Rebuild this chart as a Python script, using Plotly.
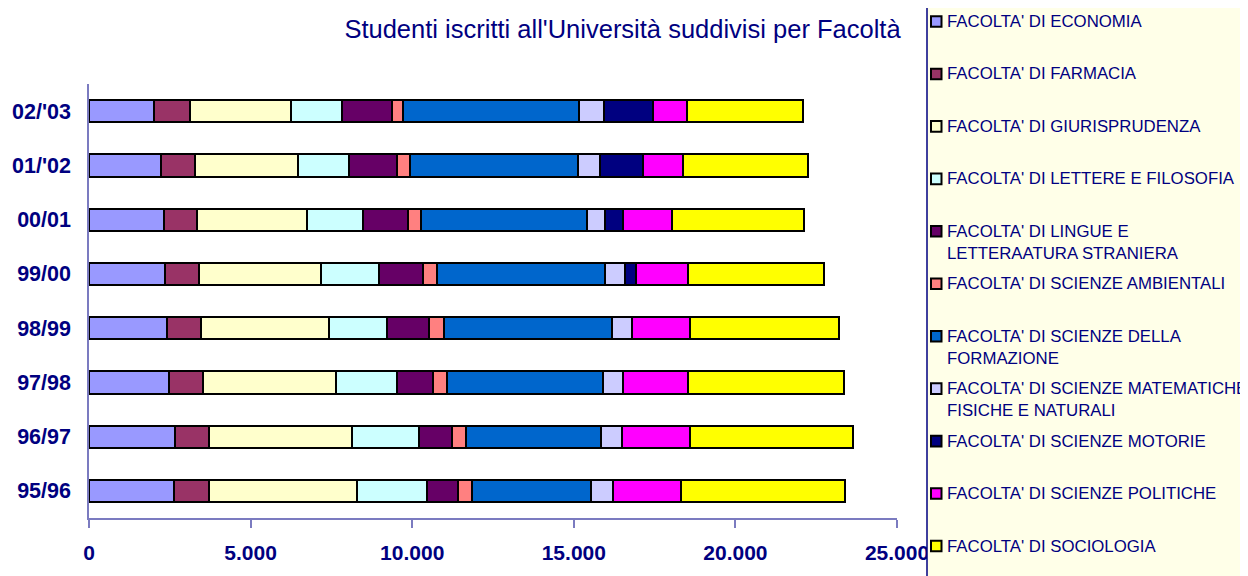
import plotly.graph_objects as go

years = ["95/96", "96/97", "97/98", "98/99", "99/00", "00/01", "01/'02", "02/'03"]

faculties = [
    "FACOLTA' DI ECONOMIA",
    "FACOLTA' DI FARMACIA",
    "FACOLTA' DI GIURISPRUDENZA",
    "FACOLTA' DI LETTERE E FILOSOFIA",
    "FACOLTA' DI LINGUE E LETTERAATURA STRANIERA",
    "FACOLTA' DI SCIENZE AMBIENTALI",
    "FACOLTA' DI SCIENZE DELLA FORMAZIONE",
    "FACOLTA' DI SCIENZE MATEMATICHE FISICHE E NATURALI",
    "FACOLTA' DI SCIENZE MOTORIE",
    "FACOLTA' DI SCIENZE POLITICHE",
    "FACOLTA' DI SOCIOLOGIA",
]
legend_labels = [
    "FACOLTA' DI ECONOMIA",
    "FACOLTA' DI FARMACIA",
    "FACOLTA' DI GIURISPRUDENZA",
    "FACOLTA' DI LETTERE E FILOSOFIA",
    "FACOLTA' DI LINGUE E<br>LETTERAATURA STRANIERA",
    "FACOLTA' DI SCIENZE AMBIENTALI",
    "FACOLTA' DI SCIENZE DELLA<br>FORMAZIONE",
    "FACOLTA' DI SCIENZE MATEMATICHE<br>FISICHE E NATURALI",
    "FACOLTA' DI SCIENZE MOTORIE",
    "FACOLTA' DI SCIENZE POLITICHE",
    "FACOLTA' DI SOCIOLOGIA",
]

economia       = [2617, 2648, 2483, 2412, 2360, 2307, 2227, 1998]
farmacia       = [1104, 1073, 1030, 1052, 1030, 1033, 1061, 1135]
giurisprudenza = [4568, 4413, 4126, 3947, 3785, 3402, 3176, 3124]
lettere        = [2165, 2091, 1887, 1824, 1794, 1732, 1565, 1577]
lingue         = [977, 1002, 1113, 1299, 1380, 1411, 1497, 1537]
ambientali     = [414, 442, 452, 455, 414, 383, 411, 359]
formazione     = [3690, 4176, 4825, 5186, 5205, 5134, 5205, 5443]
matematiche    = [690, 640, 618, 638, 619, 566, 672, 773]
motorie        = [0, 0, 0, 0, 331, 566, 1320, 1497]
politiche      = [2084, 2112, 2011, 1784, 1627, 1497, 1256, 1052]
sociologia     = [5082, 5051, 4815, 4618, 4206, 4092, 3866, 3587]

series = [economia, farmacia, giurisprudenza, lettere, lingue, ambientali,
          formazione, matematiche, motorie, politiche, sociologia]

colors = ["#9999FF", "#993366", "#FFFFCC", "#CCFFFF", "#660066", "#FF8080",
          "#0066CC", "#CCCCFF", "#000080", "#FF00FF", "#FFFF00"]

x_ticks = [0, 5000, 10000, 15000, 20000, 25000]

NAVY = "#000080"
AXIS = "#7B7BC0"
FONT = "Liberation Sans, Arial, sans-serif"

OFF = 8  # default page body margin
W, H = 1248 - OFF, 576 - OFF
# plot area in page pixels
L, R, T, B = 89, 897, 84, 518


def px_x(p):
    return (p - L) / (R - L)


def px_y(p):
    return (B - p) / (B - T)


fig = go.Figure()
for name, vals, col in zip(faculties, series, colors):
    fig.add_trace(go.Bar(
        y=years, x=vals, name=name, orientation="h",
        width=0.41,
        marker=dict(color=col, line=dict(color="#000000", width=2)),
        showlegend=False,
    ))

shapes = []
annotations = []
shapes.append(dict(type="rect", xref="paper", yref="paper",
                   x0=px_x(927), x1=px_x(1262), y0=px_y(600), y1=px_y(5.5),
                   fillcolor="#FFFFE8", line=dict(color=NAVY, width=1.5),
                   layer="above"))
item_y0 = 21.5
item_step = 52.45
for i, (lab, col) in enumerate(zip(legend_labels, colors)):
    cy = item_y0 + i * item_step
    shapes.append(dict(type="rect", xref="paper", yref="paper",
                       x0=px_x(931), x1=px_x(941.5), y0=px_y(cy + 5.3), y1=px_y(cy - 5.3),
                       fillcolor=col, line=dict(color="#000000", width=2),
                       layer="above"))
    annotations.append(dict(xref="paper", yref="paper", x=px_x(944.5), y=px_y(cy - 11.5),
                            xanchor="left", yanchor="top", align="left",
                            text=lab, showarrow=False,
                            font=dict(family=FONT, size=16.8, color=NAVY)))

fig.update_layout(
    width=W, height=H,
    margin=dict(l=L - OFF, r=1248 - R, t=T - OFF, b=576 - B),
    paper_bgcolor="white", plot_bgcolor="white",
    barmode="stack",
    separators=",.",
    title=dict(text="Studenti iscritti all'Università suddivisi per Facoltà",
               x=(622.5 - OFF) / W, xanchor="center", y=1 - (29 - OFF) / H, yanchor="middle",
               font=dict(family=FONT, size=25.5, color=NAVY)),
    xaxis=dict(range=[0, 25000], tickvals=x_ticks, tickformat=",d",
               showgrid=False, zeroline=False, showline=True, automargin=False,
               linecolor=AXIS, linewidth=1.5, ticks="outside", ticklen=8,
               tickcolor=AXIS, tickwidth=1.5, ticklabelstandoff=7,
               tickfont=dict(family=FONT, size=21, color=NAVY, weight="bold")),
    yaxis=dict(categoryorder="array", categoryarray=years,
               showgrid=False, zeroline=False, showline=True, automargin=False,
               linecolor=AXIS, linewidth=1.5, ticks="", ticklabelstandoff=12,
               tickfont=dict(family=FONT, size=21.5, color=NAVY, weight="bold")),
    shapes=shapes,
    annotations=annotations,
)

fig.write_html("out.html")
